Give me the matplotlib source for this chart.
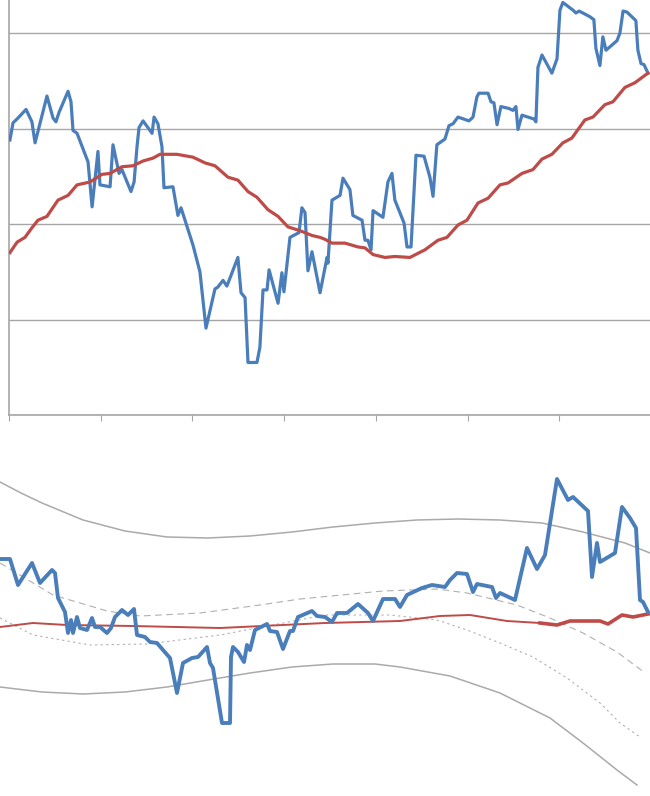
import matplotlib
matplotlib.use("Agg")
import matplotlib.pyplot as plt
from matplotlib.ticker import MultipleLocator

BLUE = "#4a7ebb"
RED = "#be4b48"
GRID = "#a6a6a6"

# upper panel: price and its moving average (day, value)
price_day = [0.5, 2.2, 4.4, 9.3, 12.5, 14.2, 20.7, 24.0, 25.6, 27.3, 32.2, 33.8, 34.9, 37.1,
             43.1, 45.3, 48.5, 49.6, 55.1, 56.7, 60.0, 61.6, 66.5, 68.2, 69.8, 70.9, 73.1,
             78.0, 79.1, 81.2, 83.4, 84.5, 89.4, 92.1, 93.8, 100.3, 104.1, 107.4, 112.3,
             113.9, 116.7, 118.8, 124.8, 126.5, 128.7, 130.3, 135.2, 136.8, 138.5, 140.7,
             141.8, 146.7, 148.8, 149.9, 153.2, 158.1, 159.7, 161.4, 163.0, 165.2, 169.6,
             173.4, 173.9, 176.1, 180.5, 182.1, 185.9, 187.5, 192.5, 194.1, 195.7, 197.4,
             198.5, 203.9, 206.6, 208.8, 210.4, 215.4, 217.0, 219.2, 221.9, 226.3, 227.9,
             229.5, 231.2, 233.3, 237.7, 239.9, 242.1, 244.8, 250.8, 253.0, 255.1, 256.2,
             261.2, 262.8, 264.4, 266.1, 268.2, 272.6, 274.8, 276.4, 277.5, 279.7, 286.2,
             287.3, 288.4, 290.6, 296.0, 298.8, 300.4, 302.0, 307.5, 309.1, 310.8, 312.9,
             316.8, 318.9, 320.0, 322.2, 323.8, 325.5, 331.5, 333.1, 334.8, 336.9, 341.8,
             342.9, 344.6, 346.2, 348.4]
price = [288, 306, 310, 320, 307, 285, 334, 311, 307, 317, 339, 328, 298, 295,
         265, 218, 276, 241, 239, 283, 253, 257, 234, 244, 281, 301, 308,
         295, 312, 305, 281, 238, 239, 209, 217, 178, 150, 91, 132,
         134, 141, 135, 165, 128, 123, 55, 55, 71, 131, 131,
         152, 117, 149, 129, 186, 191, 217, 212, 151, 171, 128,
         165, 159, 225, 230, 248, 236, 209, 204, 183, 183, 173,
         214, 207, 244, 253, 225, 201, 176, 176, 272, 271, 260,
         249, 229, 283, 289, 303, 305, 312, 308, 312, 333, 337,
         337, 328, 327, 304, 323, 321, 319, 323, 299, 314, 310,
         307, 364, 377, 358, 373, 424, 432, 424, 421, 423, 421,
         417, 414, 384, 366, 396, 382, 392, 400, 423, 422, 413,
         382, 368, 367, 358]

avg_day = [0.5, 4.4, 8.7, 12.5, 15.8, 20.7, 26.7, 32.2, 37.1, 44.2, 50.7, 55.1, 61.6, 67.6,
           73.1, 78.5, 82.3, 91.6, 100.3, 106.9, 112.3, 119.4, 124.8, 130.3, 135.2, 141.2,
           146.7, 152.1, 158.7, 165.2, 169.6, 172.3, 176.1, 183.2, 190.3, 194.1, 198.5,
           205.0, 210.4, 218.6, 226.8, 233.9, 238.8, 244.8, 249.7, 255.7, 261.2, 267.7,
           272.1, 279.7, 285.7, 290.6, 296.0, 302.0, 306.9, 314.0, 318.4, 324.9, 329.3,
           335.8, 341.3, 348.4]
avg = [170, 181, 186, 196, 204, 208, 225, 230, 241, 244, 252, 253, 260, 261,
       266, 269, 273, 273, 270, 264, 261, 249, 246, 234, 228, 215,
       208, 197, 193, 188, 186, 184, 180, 180, 176, 175, 168,
       165, 166, 165, 173, 183, 186, 199, 204, 222, 227, 241,
       243, 253, 257, 268, 273, 285, 290, 309, 312, 325, 328,
       343, 348, 358]

# lower panel: deviation from the average, plus the curved guide lines
dev_t = [0, 10, 18, 32, 40, 52, 55, 58, 65, 68, 71, 73, 77, 80, 87, 92, 95, 100, 107, 111,
         115, 122, 128, 134, 137, 145, 150, 157, 163, 170, 177, 183, 192, 198, 207, 210,
         213, 222, 230, 231, 233, 238, 244, 247, 250, 255, 267, 270, 277, 283, 290, 293,
         298, 312, 317, 325, 332, 337, 347, 358, 368, 373, 383, 395, 400, 407, 422, 432,
         445, 450, 457, 467, 473, 477, 492, 496, 500, 515, 527, 537, 545, 557, 568, 573,
         588, 592, 597, 600, 615, 622, 630, 636, 640, 643, 648]
dev = [67, 67, 41, 63, 43, 56, 53, 28, 14, -7, 6, -7, 9, -2, -4, 8, -1, -1, -7, -2,
       9, 16, 11, 17, -9, -11, -16, -17, -24, -32, -67, -37, -32, -31, -21, -37,
       -42, -97, -97, -31, -21, -26, -36, -19, -24, -4, 2, -5, -6, -23, -5, -5,
       9, 15, 10, 9, 4, 13, 13, 22, 13, 5, 27, 27, 19, 31, 38, 41,
       39, 46, 53, 52, 34, 42, 39, 28, 33, 26, 78, 57, 71, 147, 126, 129,
       115, 49, 83, 64, 73, 119, 108, 98, 26, 24, 14]

base_t = [0, 33, 67, 133, 220, 325, 400, 440, 470, 507, 540]
base = [-1, 3, 1, 0, -2, 3, 5, 10, 11, 5, 3]
base_end_t = [540, 557, 570, 600, 608, 622, 633, 648]
base_end = [3, 1, 5, 5, 2, 11, 9, 12]

upper_t = [0, 21, 42, 83, 125, 167, 208, 250, 292, 333, 375, 417, 458, 500, 542, 583, 625, 650]
upper = [144, 133, 123, 106, 95, 89, 88, 90, 94, 99, 103, 106, 107, 106, 103, 94, 83, 73]
lower_t = [0, 42, 83, 125, 167, 208, 250, 292, 333, 375, 400, 450, 500, 550, 583, 617, 637]
lower = [-61, -66, -68, -66, -61, -54, -47, -41, -38, -38, -41, -50, -67, -92, -117, -144, -159]
inner_hi_t = [0, 53, 107, 140, 200, 260, 300, 383, 437, 467, 517, 550, 583, 617, 645]
inner_hi = [63, 31, 15, 10, 13, 21, 27, 35, 37, 33, 21, 8, -7, -26, -47]
inner_lo_t = [0, 33, 90, 147, 220, 325, 390, 437, 467, 500, 533, 567, 600, 620, 640]
inner_lo = [8, -9, -19, -18, -9, 11, 11, 6, -4, -17, -31, -52, -77, -97, -111]

fig = plt.figure(figsize=(6.5, 7.96), dpi=100)

ax = fig.add_axes([9 / 650, 1 - 415 / 796, 641 / 650, 415 / 796])
ax.plot(price_day, price, color=BLUE, lw=2.3, zorder=3)
ax.plot(avg_day, avg, color=RED, lw=2.3, zorder=3)
ax.set_xlim(0, 349.5)
ax.set_ylim(0, 434.6)
ax.xaxis.set_major_locator(MultipleLocator(50))
ax.yaxis.set_major_locator(MultipleLocator(100))
ax.grid(axis="y", color=GRID, lw=1)
ax.tick_params(axis="x", length=4, color=GRID, labelbottom=False)
ax.tick_params(axis="y", length=0, labelleft=False)
for side in ["top", "right"]:
    ax.spines[side].set_visible(False)
for side in ["left", "bottom"]:
    ax.spines[side].set_color(GRID)
    ax.spines[side].set_linewidth(1.2)

bx = fig.add_axes([0, 0, 1, 376 / 796])
bx.plot(upper_t, upper, color="#aaaaaa", lw=1.1)
bx.plot(lower_t, lower, color="#aaaaaa", lw=1.1)
bx.plot(inner_hi_t, inner_hi, color="#b0b0b0", lw=0.8, ls=(0, (6, 4)))
bx.plot(inner_lo_t, inner_lo, color="#b0b0b0", lw=0.8, ls=(0, (2, 3)))
bx.plot(base_t, base, color=RED, lw=1.4, zorder=3)
bx.plot(base_end_t, base_end, color=RED, lw=2.6, zorder=3)
bx.plot(dev_t, dev, color=BLUE, lw=2.8, zorder=4)
bx.set_xlim(0, 650)
bx.set_ylim(-170, 206)
bx.axis("off")

fig.savefig("out.png", dpi=100)
